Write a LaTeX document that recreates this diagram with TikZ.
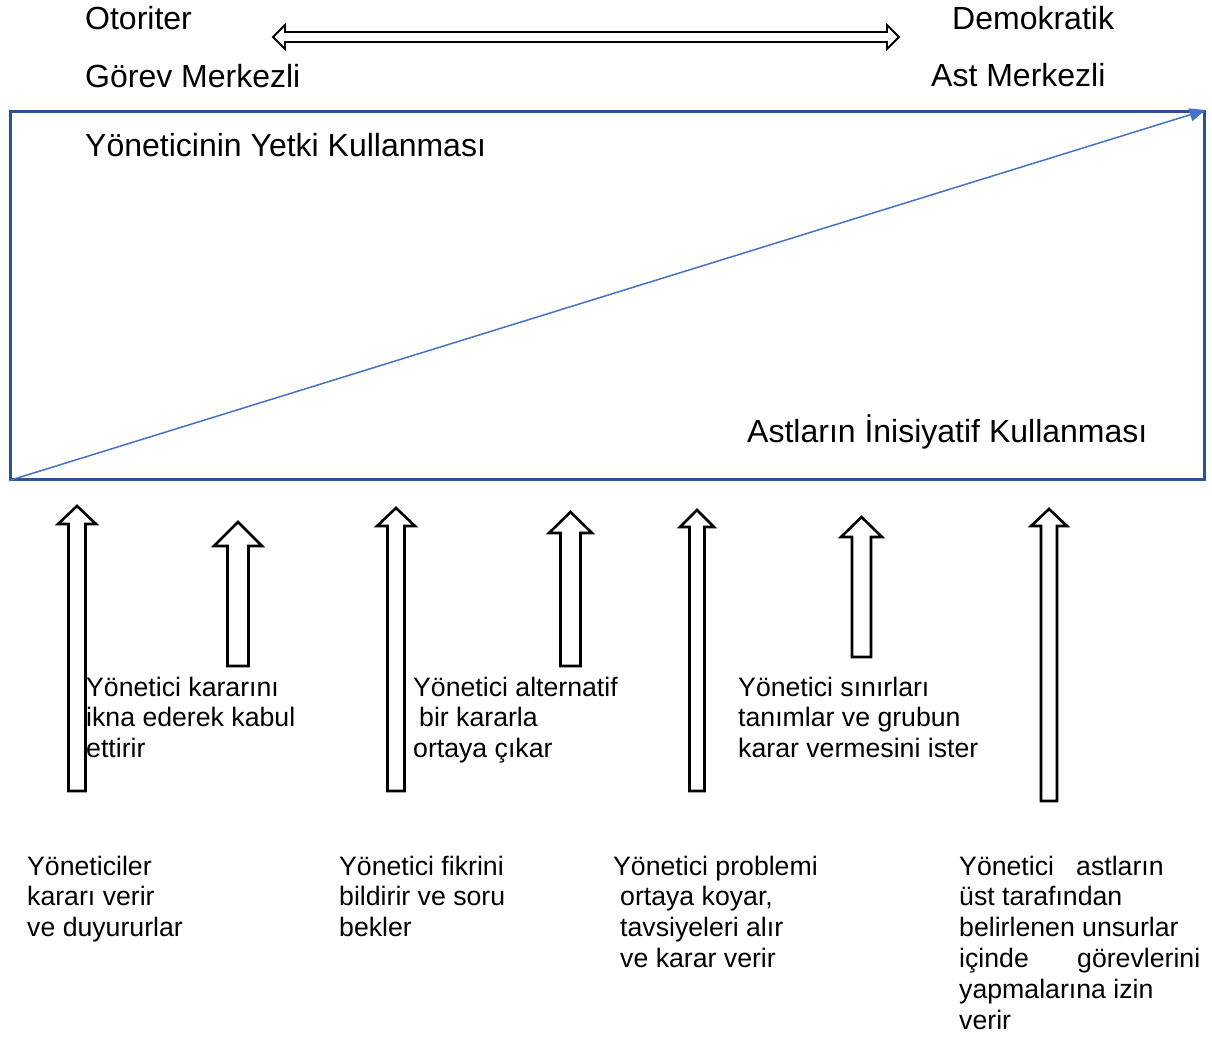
\documentclass[tikz,border=0pt]{standalone}
\usepackage{fontspec}
\setmainfont{Liberation Sans}
\usetikzlibrary{arrows.meta}
\definecolor{frameblue}{HTML}{2F528F}
\definecolor{lineblue}{HTML}{4472C4}
\tikzset{
  bigtxt/.style={anchor=base west, inner sep=0pt, font=\fontsize{32}{37}\selectfont},
  smalltxt/.style={anchor=base west, inner sep=0pt, font=\fontsize{26.67}{30.8}\selectfont},
  blockarrow/.style={draw=black, fill=white, line width=2.6pt, line join=miter},
  framebox/.style={draw=frameblue, line width=2.6pt, inner sep=0pt, anchor=north west},
  diag/.style={draw=lineblue, line width=1.5pt, -{Triangle[length=16pt,width=13pt]}}
}
\newcommand{\lines}[1]{\begin{tabular}[t]{@{}l@{}}#1\end{tabular}}
\begin{document}
\begin{tikzpicture}[x=1pt,y=-1pt]
\useasboundingbox (0,0) rectangle (1212,1036);

% top labels
\node[bigtxt] (otoriter) at (85,29) {Otoriter};
\node[bigtxt] (gorev) at (85,87) {Görev Merkezli};
\node[bigtxt] (demokratik) at (952,29) {Demokratik};
\node[bigtxt] (ast) at (931,86) {Ast Merkezli};

% double-headed block arrow
\draw[line width=1.8pt, fill=white, line join=miter] (273,37) -- (285,25) -- (285,32) -- (887,32) -- (887,25) -- (899,37)
  -- (887,49) -- (887,42) -- (285,42) -- (285,49) -- cycle;

% frame and diagonal
\node[framebox, minimum width=1194pt, minimum height=368pt] (frame) at (9,110) {};
\draw[diag] (frame.south west) -- (frame.north east);

\node[bigtxt] (yonetici) at (85,156) {Yöneticinin Yetki Kullanması};
\node[bigtxt] (astlar) at (747,442) {Astların İnisiyatif Kullanması};

% up block arrows: center x / tip y / head base y / half head / half shaft / bottom y
\foreach \cx/\ty/\by/\hh/\hs/\bt in {
  77/506/524/19/8.5/791,
  238/522/546/24/10.5/666,
  396/508/526/19/8.5/791,
  570.5/512/533/21.5/10/666,
  697/510/527/17/7.5/791,
  861.5/517/537/20.5/9.5/657,
  1049/509/526/18/8/801} {
  \draw[blockarrow] (\cx,\ty) -- (\cx+\hh,\by) -- (\cx+\hs,\by) -- (\cx+\hs,\bt)
    -- (\cx-\hs,\bt) -- (\cx-\hs,\by) -- (\cx-\hh,\by) -- cycle;
}

% middle labels
\node[smalltxt] (ikna) at (86,696) {\lines{Yönetici kararını\\ikna ederek kabul\\ettirir}};
\node[smalltxt] (alternatif) at (413,696) {\lines{Yönetici alternatif\\\hspace{6pt}bir kararla\\ortaya çıkar}};
\node[smalltxt] (sinirlari) at (738,696) {\lines{Yönetici sınırları\\tanımlar ve grubun\\karar vermesini ister}};

% bottom labels
\node[smalltxt] (yoneticiler) at (27,875) {\lines{Yöneticiler\\kararı verir\\ve duyururlar}};
\node[smalltxt] (fikrini) at (339,875) {\lines{Yönetici fikrini\\bildirir ve soru\\bekler}};
\node[smalltxt] (problemi) at (613,875) {\lines{Yönetici problemi\\\hspace{7pt}ortaya koyar,\\\hspace{7pt}tavsiyeleri alır\\\hspace{7pt}ve karar verir}};
\node[smalltxt] (izin) at (959,875) {\lines{\makebox[117pt][l]{Yönetici}astların\\üst tarafından\\belirlenen unsurlar\\\makebox[118pt][l]{içinde}görevlerini\\yapmalarına izin\\verir}};
\end{tikzpicture}
\end{document}
